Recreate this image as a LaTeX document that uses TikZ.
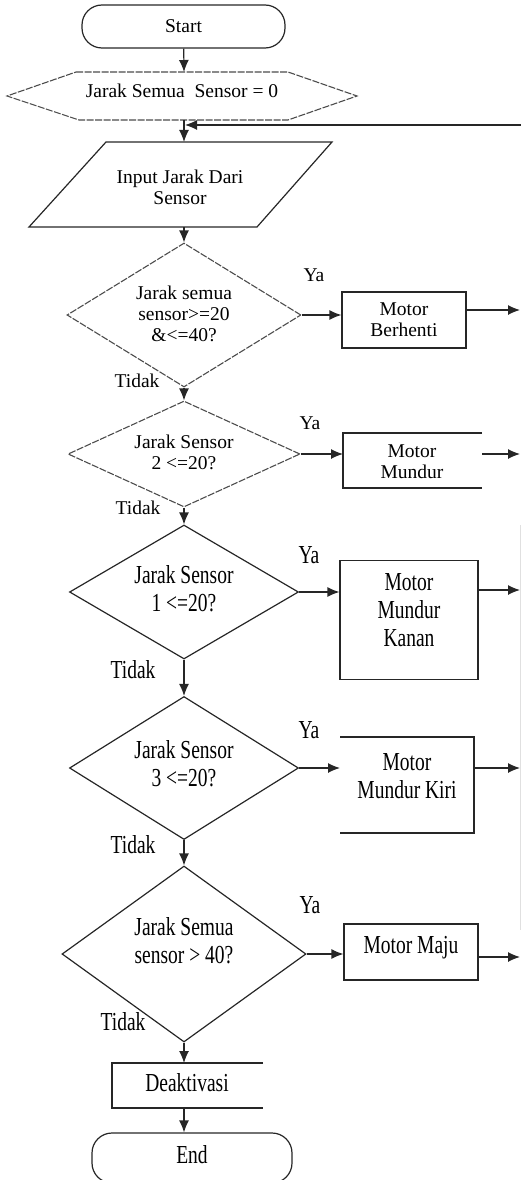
\documentclass[tikz,border=0pt]{standalone}
\usepackage{fontspec}
\setmainfont{Liberation Serif}
\usetikzlibrary{arrows.meta,shapes.geometric}
\newcommand{\tallt}[1]{\scalebox{1}[1.33]{\begin{tabular}{@{}c@{}}#1\end{tabular}}}
\begin{document}
\begin{tikzpicture}[x=1pt,y=-1pt,
  every node/.style={font=\fontsize{19.5}{21}\selectfont, inner sep=0pt},
  ln/.style={line width=1.2pt, draw=black!85},
  dsh/.style={line width=1.1pt, draw=black!70, dash pattern=on 7pt off 1.5pt},
  arr/.style={ln, -{Latex[length=12pt,width=10pt]}},
  diam/.style={diamond, draw, inner sep=0pt},
  box/.style={rectangle, draw, ln, align=center},
  term/.style={rectangle, rounded corners=20pt, draw, ln}
]
\useasboundingbox (0,0) rectangle (521,1180);

% Start
\node[term, minimum width=203pt, minimum height=43pt] (start) at (183.5,26.5) {Start};

% Hexagon initialisation
\draw[dsh] (76,72) -- (288,72) -- (357,96) -- (288,120) -- (79,120) -- (7,96) -- cycle;
\node (hex) at (182,91) {Jarak Semua\ \ Sensor = 0};
\coordinate (hexT) at (184,72);
\coordinate (hexB) at (184,120);

% Input parallelogram
\draw[ln] (106,142) -- (332,142) -- (257,227) -- (29,227) -- cycle;
\node[align=center] (inp) at (180,187) {Input Jarak Dari\\Sensor};
\coordinate (inT) at (184,142);
\coordinate (inB) at (184,227);

% loop back
\coordinate (loopR) at (521,125);
\coordinate (loopL) at (185,125);

% Decision 1
\node[diam, dsh, minimum width=234pt, minimum height=144pt] (d1) at (184,315) {};
\node[align=center] (d1t) at (184,314) {Jarak semua\\sensor>=20\\\&<=40?};
\node[box, minimum width=124pt, minimum height=56pt] (b1) at (404,320) {Motor\\Berhenti};
\coordinate (r1) at (520,310);

% Decision 2
\node[diam, dsh, minimum width=232pt, minimum height=106pt] (d2) at (184,454) {};
\node[align=center] (d2t) at (184,452) {Jarak Sensor\\2 <=20?};
\draw[ln] (482,433) -- (343,433) -- (343,488) -- (482,488);
\node[align=center] (b2) at (412,462) {Motor\\Mundur};
\coordinate (b2w) at (343,454);
\coordinate (b2e) at (482,454);
\coordinate (r2) at (520,454);

% Decision 3
\node[diam, ln, minimum width=229pt, minimum height=134pt] (d3) at (184,592) {};
\node (d3t) at (184,592) {\tallt{Jarak Sensor\\1 <=20?}};
\node[box, minimum width=138pt, minimum height=119pt] (b3) at (409,620) {};
\node (b3t) at (409,613) {\tallt{Motor\\Mundur\\Kanan}};
\coordinate (r3) at (520,590);

% Decision 4
\node[diam, ln, minimum width=229pt, minimum height=143pt] (d4) at (184,768) {};
\node (d4t) at (184,767) {\tallt{Jarak Sensor\\3 <=20?}};
\draw[ln] (340,737) -- (474,737) -- (474,833) -- (340,833);
\node (b4) at (407,779) {\tallt{Motor\\Mundur Kiri}};
\coordinate (b4w) at (340,768);
\coordinate (b4e) at (474,768);
\coordinate (r4) at (520,768);

% Decision 5
\node[diam, ln, minimum width=244pt, minimum height=176pt] (d5) at (184,954) {};
\node (d5t) at (184,944) {\tallt{Jarak Semua\\sensor > 40?}};
\node[box, minimum width=134pt, minimum height=56pt] (b5) at (411,952) {};
\node (b5t) at (411,948) {\tallt{Motor Maju}};
\coordinate (r5) at (520,957);

% Deaktivasi
\draw[ln] (263,1063) -- (112,1063) -- (112,1108) -- (263,1108);
\node (deak) at (187,1086) {\tallt{Deaktivasi}};
\coordinate (deT) at (184,1063);
\coordinate (deB) at (184,1108);

% End
\node[term, minimum width=200pt, minimum height=50pt] (end) at (192,1158) {\tallt{End}};

% faint right border line
\draw[black!12, line width=0.8pt] (520,525) -- (520,930);

% Labels
\node (ya1) at (314,275) {Ya};
\node (ya2) at (310,423) {Ya};
\node (ya3) at (309,558) {\tallt{Ya}};
\node (ya4) at (309,733) {\tallt{Ya}};
\node (ya5) at (310,908) {\tallt{Ya}};
\node (td1) at (137,381) {Tidak};
\node (td2) at (138,508) {Tidak};
\node (td3) at (133,673) {\tallt{Tidak}};
\node (td4) at (133,848) {\tallt{Tidak}};
\node (td5) at (123,1025) {\tallt{Tidak}};

% Connectors
\draw[arr] (start) -- (hexT);
\draw[arr] (hexB) -- (inT);
\draw[arr] (loopR) -- (loopL);
\draw[arr] (inB) -- (d1.north);
\draw[arr] (d1.south) -- (d2.north);
\draw[arr] (d2.south) -- (d3.north);
\draw[arr] (d3.south) -- (d4.north);
\draw[arr] (d4.south) -- (d5.north);
\draw[arr] (d5.south) -- (deT);
\draw[arr] (deB) -- (deB |- end.north);

\draw[arr] (d1.east) -- (d1.east -| b1.west);
\draw[arr] (b1.east |- r1) -- (r1);
\draw[arr] (d2.east) -- (b2w);
\draw[arr] (b2e) -- (r2);
\draw[arr] (d3.east) -- (d3.east -| b3.west);
\draw[arr] (b3.east |- r3) -- (r3);
\draw[arr] (d4.east) -- (b4w);
\draw[arr] (b4e) -- (r4);
\draw[arr] (d5.east) -- (d5.east -| b5.west);
\draw[arr] (b5.east |- r5) -- (r5);
\end{tikzpicture}
\end{document}
